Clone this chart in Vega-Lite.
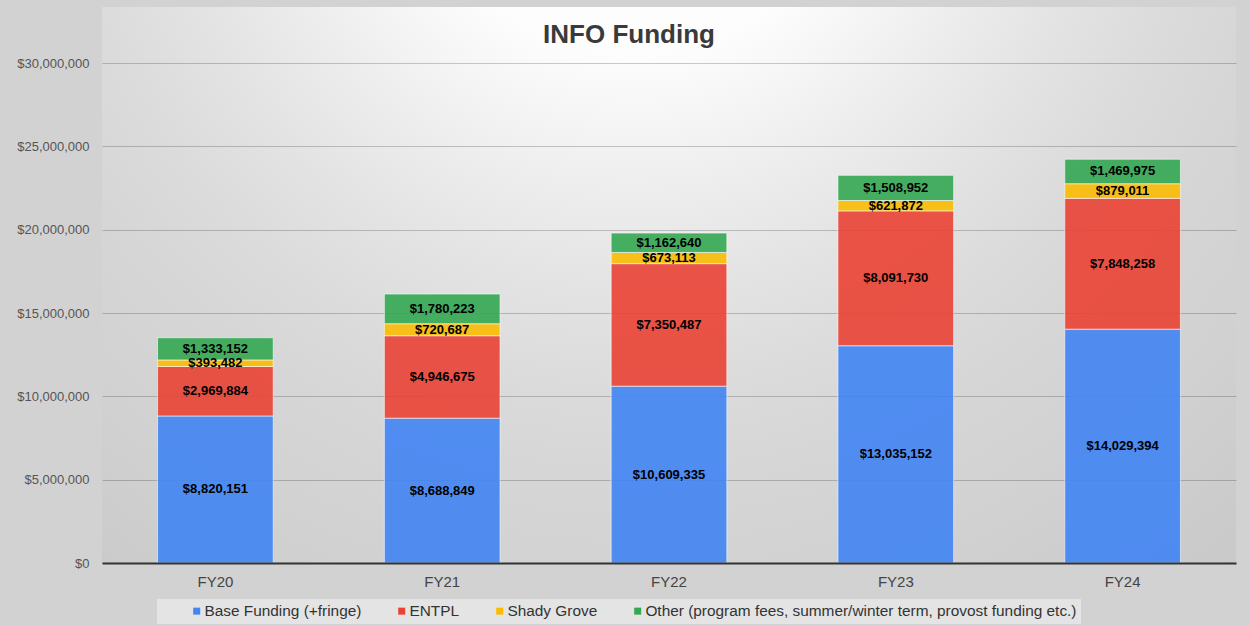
{
  "$schema": "https://vega.github.io/schema/vega-lite/v6.json",
  "width": 1134,
  "height": 556,
  "autosize": {"type": "none"},
  "padding": {"left": 102, "top": 7, "right": 14, "bottom": 63},
  "background": "#d2d2d2",
  "title": {
    "text": "INFO Funding",
    "fontSize": 26,
    "fontWeight": "bold",
    "color": "#3a3a3a",
    "anchor": "middle",
    "dx": -40,
    "offset": -62,
    "baseline": "alphabetic"
  },
  "config": {
    "font": "Liberation Sans",
    "view": {
      "stroke": null,
      "fill": {
        "gradient": "radial",
        "x1": 0.468, "y1": 0.0935, "r1": 0,
        "x2": 0.468, "y2": 0.0935, "r2": 1,
        "stops": [
          {"offset": 0, "color": "#ffffff"},
          {"offset": 0.2, "color": "#fdfdfd"},
          {"offset": 0.24, "color": "#f8f8f8"},
          {"offset": 0.326, "color": "#ededed"},
          {"offset": 0.414, "color": "#e3e3e3"},
          {"offset": 0.5, "color": "#dbdbdb"},
          {"offset": 0.575, "color": "#d6d6d6"},
          {"offset": 0.69, "color": "#d1d1d1"},
          {"offset": 0.8, "color": "#cbcbcb"},
          {"offset": 1, "color": "#c3c3c3"}
        ]
      }
    }
  },
  "data": {
    "values": [
      {"year": "FY20", "source": "Base Funding (+fringe)", "k": 1, "value": 8820151},
      {"year": "FY20", "source": "ENTPL", "k": 2, "value": 2969884},
      {"year": "FY20", "source": "Shady Grove", "k": 3, "value": 393482},
      {"year": "FY20", "source": "Other (program fees, summer/winter term, provost funding etc.)", "k": 4, "value": 1333152},
      {"year": "FY21", "source": "Base Funding (+fringe)", "k": 1, "value": 8688849},
      {"year": "FY21", "source": "ENTPL", "k": 2, "value": 4946675},
      {"year": "FY21", "source": "Shady Grove", "k": 3, "value": 720687},
      {"year": "FY21", "source": "Other (program fees, summer/winter term, provost funding etc.)", "k": 4, "value": 1780223},
      {"year": "FY22", "source": "Base Funding (+fringe)", "k": 1, "value": 10609335},
      {"year": "FY22", "source": "ENTPL", "k": 2, "value": 7350487},
      {"year": "FY22", "source": "Shady Grove", "k": 3, "value": 673113},
      {"year": "FY22", "source": "Other (program fees, summer/winter term, provost funding etc.)", "k": 4, "value": 1162640},
      {"year": "FY23", "source": "Base Funding (+fringe)", "k": 1, "value": 13035152},
      {"year": "FY23", "source": "ENTPL", "k": 2, "value": 8091730},
      {"year": "FY23", "source": "Shady Grove", "k": 3, "value": 621872},
      {"year": "FY23", "source": "Other (program fees, summer/winter term, provost funding etc.)", "k": 4, "value": 1508952},
      {"year": "FY24", "source": "Base Funding (+fringe)", "k": 1, "value": 14029394},
      {"year": "FY24", "source": "ENTPL", "k": 2, "value": 7848258},
      {"year": "FY24", "source": "Shady Grove", "k": 3, "value": 879011},
      {"year": "FY24", "source": "Other (program fees, summer/winter term, provost funding etc.)", "k": 4, "value": 1469975}
    ]
  },
  "transform": [
    {"stack": "value", "groupby": ["year"], "sort": [{"field": "k", "order": "ascending"}], "as": ["v0", "v1"]},
    {"calculate": "(datum.v0 + datum.v1) / 2", "as": "mid"}
  ],
  "encoding": {
    "x": {
      "field": "year",
      "type": "nominal",
      "scale": {"paddingInner": 0.49, "paddingOuter": 0.245},
      "axis": {
        "title": null,
        "labelAngle": 0,
        "labelFontSize": 15,
        "labelColor": "#444444",
        "labelPadding": 11,
        "ticks": false,
        "domain": true,
        "domainColor": "#333333",
        "domainWidth": 2,
        "grid": false,
        "zindex": 2
      }
    }
  },
  "layer": [
    {
      "mark": {"type": "bar", "opacity": 0.9, "stroke": "white", "strokeWidth": 1, "strokeOpacity": 0.6},
      "encoding": {
        "y": {
          "field": "v0",
          "type": "quantitative",
          "scale": {"domain": [0, 33360000], "nice": false},
          "axis": {
            "title": null,
            "values": [0, 5000000, 10000000, 15000000, 20000000, 25000000, 30000000],
            "format": "$,.0f",
            "labelFontSize": 13,
            "labelColor": "#555555",
            "labelPadding": 13,
            "ticks": false,
            "domain": false,
            "grid": true,
            "gridColor": "#000000",
            "gridOpacity": 0.2
          }
        },
        "y2": {"field": "v1"},
        "color": {
          "field": "source",
          "type": "nominal",
          "scale": {
            "domain": ["Base Funding (+fringe)", "ENTPL", "Shady Grove", "Other (program fees, summer/winter term, provost funding etc.)"],
            "range": ["#4285f4", "#ea4335", "#fbbc04", "#34a853"]
          },
          "legend": {
            "title": null,
            "orient": "none",
            "legendX": 55,
            "legendY": 592,
            "direction": "horizontal",
            "columns": 4,
            "symbolType": "square",
            "symbolSize": 49,
            "symbolStrokeWidth": 0,
            "symbolOpacity": 1,
            "labelFontSize": 15.4,
            "labelColor": "#333333",
            "labelLimit": 0,
            "labelOffset": 0,
            "fillColor": "#e4e4e4",
            "padding": 4,
            "symbolOffset": 28,
            "columnPadding": 4
          }
        }
      }
    },
    {
      "mark": {"type": "text", "fontWeight": "bold", "fontSize": 13, "color": "#000000", "baseline": "middle"},
      "encoding": {
        "y": {"field": "mid", "type": "quantitative"},
        "text": {"field": "value", "type": "quantitative", "format": "$,.0f"}
      }
    }
  ]
}
